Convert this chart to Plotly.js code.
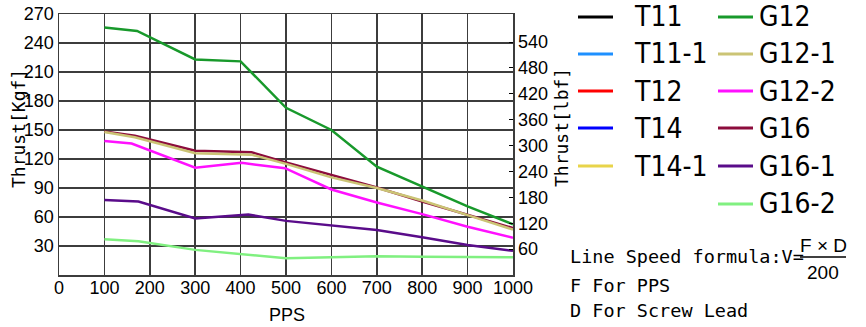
<!DOCTYPE html>
<html>
<head>
<meta charset="utf-8">
<script src="https://cdn.plot.ly/plotly-3.0.1.min.js"></script>
<style>html,body{margin:0;padding:0;background:#fff;}#chart{width:866px;height:327px;}</style>
</head>
<body>
<div id="chart"></div>
<script>
// ---- data ----
const xTicks = [0,100,200,300,400,500,600,700,800,900,1000];
const yTicksKgf = [30,60,90,120,150,180,210,240,270];
const yTicksLbf = [60,120,180,240,300,360,420,480,540];

const xT11 = [], yT11 = [];
const xT11_1 = [], yT11_1 = [];
const xT12 = [], yT12 = [];
const xT14 = [], yT14 = [];
const xT14_1 = [], yT14_1 = [];

const xG12   = [100,172,300,400,500,600,700,800,900,1000];
const yG12   = [256,252.5,223,221,173,150,112,91.5,71,52.5];
const xG12_1 = [100,167,300,424,500,600,700,800,900,1000];
const yG12_1 = [148,142.5,126,124.5,115,101,90,77,62,47];
const xG12_2 = [100,160,300,402,498,600,700,800,900,1000];
const yG12_2 = [138.5,136,111,116,110.5,88.5,75,63,50,38.5];
const xG16   = [100,167,300,424,500,600,700,800,900,1000];
const yG16   = [148.5,144,128.5,127,116.5,103.5,90.5,76,62,48.5];
const xG16_1 = [100,175,300,417,500,600,700,800,900,1000];
const yG16_1 = [77.5,76,58.5,62.5,56,51.5,46.5,39,31,25];
const xG16_2 = [100,175,300,402,500,600,700,800,900,1000];
const yG16_2 = [37,35,26,21.7,17.3,18.3,19.5,19,18.5,18.3];

const seriesNames = ['T11','T11-1','T12','T14','T14-1','G12','G12-1','G12-2','G16','G16-1','G16-2'];
const seriesColors = ['#000000','#1e90ff','#ff0000','#0000ff','#e8d44a','#18992b','#cbc475','#ff10ff','#8c0c3c','#5a0c8a','#80f080'];
const dataX = [xT11,xT11_1,xT12,xT14,xT14_1,xG12,xG12_1,xG12_2,xG16,xG16_1,xG16_2];
const dataY = [yT11,yT11_1,yT12,yT14,yT14_1,yG12,yG12_1,yG12_2,yG16,yG16_1,yG16_2];
// draw order: maroon (G16) before khaki (G12-1)
const drawOrder = [0,1,2,3,4,5,8,7,6,9,10];

// ---- layout geometry (pixels) ----
const W = 866, H = 327;
const L = 59, R = 513, T = 14, B = 275;
const pw = R - L, ph = B - T;
const PX = p => (p - L) / pw;
const PY = p => (B - p) / ph;

const traces = drawOrder.map(i => ({
  type: 'scatter', mode: 'lines',
  x: dataX[i], y: dataY[i], name: seriesNames[i],
  line: {color: seriesColors[i], width: 2.5},
  showlegend: false, hoverinfo: 'skip'
}));
// placeholder trace on right axis (lbf scale)
traces.push({type:'scatter', mode:'lines', x:[], y:[], yaxis:'y2', showlegend:false});

const monoFont = '"DejaVu Sans Mono", monospace';
const legFont = '"DejaVu Sans Condensed", "DejaVu Sans", sans-serif';
const sansFont = 'Liberation Sans, Arial, sans-serif';
const shapes = [];
const annotations = [];

// legend (manual, two columns)
const rowsY = [17, 54, 91, 128, 166, 204];
const col1 = [0,1,2,3,4];
const col2 = [5,6,7,8,9,10];
col1.forEach((si, r) => {
  shapes.push({type:'line', xref:'paper', yref:'paper', x0:PX(578), x1:PX(613), y0:PY(rowsY[r]), y1:PY(rowsY[r]), line:{color:seriesColors[si], width:3}});
  annotations.push({xref:'paper', yref:'paper', x:PX(632), y:PY(rowsY[r]), xanchor:'left', yanchor:'middle', text:seriesNames[si], showarrow:false, font:{family:legFont, size:28, color:'#000'}});
});
col2.forEach((si, r) => {
  shapes.push({type:'line', xref:'paper', yref:'paper', x0:PX(718), x1:PX(753), y0:PY(rowsY[r]), y1:PY(rowsY[r]), line:{color:seriesColors[si], width:3}});
  annotations.push({xref:'paper', yref:'paper', x:PX(757), y:PY(rowsY[r]), xanchor:'left', yanchor:'middle', text:seriesNames[si], showarrow:false, font:{family:legFont, size:28, color:'#000'}});
});

// axis titles
annotations.push({xref:'paper', yref:'paper', x:PX(18), y:PY(129), xanchor:'center', yanchor:'middle', textangle:-90, text:'Thrust[Kgf]', showarrow:false, font:{family:monoFont, size:18, color:'#000'}});
annotations.push({xref:'paper', yref:'paper', x:PX(561), y:PY(128), xanchor:'center', yanchor:'middle', textangle:-90, text:'Thrust[lbf]', showarrow:false, font:{family:monoFont, size:18, color:'#000'}});
annotations.push({xref:'paper', yref:'paper', x:PX(287), y:PY(315), xanchor:'center', yanchor:'middle', text:'PPS', showarrow:false, font:{family:sansFont, size:18, color:'#000'}});

// formula
annotations.push({xref:'paper', yref:'paper', x:PX(568), y:PY(256), xanchor:'left', yanchor:'middle', text:'Line Speed formula:V=', showarrow:false, font:{family:monoFont, size:18.5, color:'#000'}});
annotations.push({xref:'paper', yref:'paper', x:PX(823), y:PY(245), xanchor:'center', yanchor:'middle', text:'F × D', showarrow:false, font:{family:sansFont, size:19, color:'#000'}});
annotations.push({xref:'paper', yref:'paper', x:PX(823), y:PY(272), xanchor:'center', yanchor:'middle', text:'200', showarrow:false, font:{family:sansFont, size:19, color:'#000'}});
shapes.push({type:'line', xref:'paper', yref:'paper', x0:PX(800), x1:PX(846), y0:PY(257), y1:PY(257), line:{color:'#000', width:1.5}});
annotations.push({xref:'paper', yref:'paper', x:PX(568), y:PY(285), xanchor:'left', yanchor:'middle', text:'F For PPS', showarrow:false, font:{family:monoFont, size:18.5, color:'#000'}});
annotations.push({xref:'paper', yref:'paper', x:PX(568), y:PY(310), xanchor:'left', yanchor:'middle', text:'D For Screw Lead', showarrow:false, font:{family:monoFont, size:18.5, color:'#000'}});

const numFont = {family: sansFont, size:18, color:'#000'};
const layout = {
  width: W, height: H,
  margin: {l: L, r: W - R, t: T, b: H - B, pad: 0},
  paper_bgcolor: '#fff', plot_bgcolor: '#fff',
  showlegend: false,
  xaxis: {
    range: [0, 1000], tickvals: xTicks, ticktext: xTicks.map(String),
    showgrid: true, gridcolor: '#3c3c3c', gridwidth: 1.5,
    zeroline: false, showline: true, linecolor: '#3c3c3c', linewidth: 1.5, mirror: true,
    ticks: '', tickfont: numFont, ticklabelstandoff: -4, fixedrange: true
  },
  yaxis: {
    range: [0, 270], tickvals: yTicksKgf, ticktext: yTicksKgf.map(String),
    showgrid: true, gridcolor: '#3c3c3c', gridwidth: 1.5,
    zeroline: false, showline: true, linecolor: '#3c3c3c', linewidth: 1.5, mirror: true,
    ticks: '', tickfont: numFont, fixedrange: true
  },
  yaxis2: {
    overlaying: 'y', side: 'right',
    range: [0, 605], tickvals: yTicksLbf, ticktext: yTicksLbf.map(String),
    showgrid: false, zeroline: false, showline: true, linecolor: '#3c3c3c', linewidth: 1.5,
    ticks: 'inside', ticklen: 4, tickcolor: '#000', tickwidth: 1,
    tickfont: numFont, fixedrange: true
  },
  shapes: shapes,
  annotations: annotations
};

Plotly.newPlot('chart', traces, layout, {displayModeBar: false, staticPlot: true});
</script>
</body>
</html>
